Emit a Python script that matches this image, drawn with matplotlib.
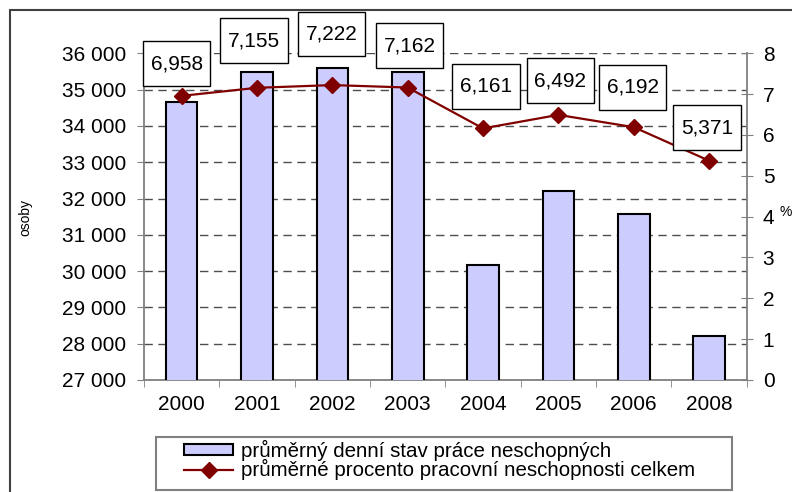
import numpy as np
import matplotlib.pyplot as plt
from matplotlib.path import Path
from matplotlib.patches import Rectangle
from matplotlib.ticker import FuncFormatter, MultipleLocator

plt.rcParams['font.family'] = ['Liberation Sans', 'DejaVu Sans']

# data
years = ['2000', '2001', '2002', '2003', '2004', '2005', '2006', '2008']
persons = [34660, 35490, 35600, 35480, 30160, 32200, 31560, 28200]
percent = [6.958, 7.155, 7.222, 7.162, 6.161, 6.492, 6.192, 5.371]
percent_labels = ['6,958', '7,155', '7,222', '7,162', '6,161', '6,492', '6,192', '5,371']

bar_name = 'průměrný denní stav práce neschopných'
line_name = 'průměrné procento pracovní neschopnosti celkem'

# label placement (pixel offsets from the point), set by hand like in Excel
label_dx = [-5, -3, -1, 2, 3, 2, -1, -2]
label_dy = [32, 47, 51, 42, 42, 34, 40, 33]

bar_color = '#CCCCFF'
line_color = '#800000'
axis_grey = '#808080'


def excel_box(x0, y0, width, height, mutation_size):
    # more vertical padding than horizontal, like the Excel label boxes
    px = 0.36 * mutation_size
    py = 0.62 * mutation_size
    x0, y0 = x0 - px, y0 - py
    x1, y1 = x0 + width + 2 * px, y0 + height + 2 * py
    return Path([(x0, y0), (x1, y0), (x1, y1), (x0, y1), (x0, y0)], closed=True)


fig = plt.figure(figsize=(7.92, 4.92), dpi=100)
ax = fig.add_axes([144 / 792, 1 - 380 / 492, (746.7 - 144) / 792, (380 - 53.3) / 492])
ax2 = ax.twinx()

x = np.arange(len(years))
ax.bar(x, persons, width=0.42, color=bar_color, edgecolor='black', linewidth=1.5,
       zorder=3, label=bar_name)
ax.set_ylim(27000, 36000)
ax.set_xlim(-0.5, len(years) - 0.5)
ax.yaxis.set_major_locator(MultipleLocator(1000))
ax.yaxis.set_major_formatter(FuncFormatter(lambda v, p: f'{int(v):,}'.replace(',', ' ')))
ax.grid(axis='y', color='#4d4d4d', linestyle=(0, (6, 4)), linewidth=1.0, zorder=0)
ax.set_axisbelow(True)

ax.set_xticks(x)
ax.set_xticklabels(years)
ax.set_xticks(np.arange(-0.5, len(years)), minor=True)
ax.tick_params(axis='x', which='major', length=0, pad=11, labelsize=15)
ax.tick_params(axis='x', which='minor', length=5, color=axis_grey, direction='out')
ax.tick_params(axis='y', length=5, color=axis_grey, direction='out', pad=8, labelsize=15)

for s in ['top', 'right']:
    ax.spines[s].set_visible(False)
for s in ['left', 'bottom']:
    ax.spines[s].set_color(axis_grey)
    ax.spines[s].set_linewidth(1.3)

ax2.plot(x, percent, color=line_color, linewidth=1.6, marker='D', markersize=8,
         markerfacecolor=line_color, markeredgecolor=line_color, zorder=4, label=line_name)
ax2.set_ylim(0, 8)
ax2.yaxis.set_major_locator(MultipleLocator(1))
ax2.tick_params(axis='y', length=9, color=axis_grey, direction='inout', pad=7, labelsize=15)
for s in ['top', 'left', 'bottom']:
    ax2.spines[s].set_visible(False)
ax2.spines['right'].set_color(axis_grey)
ax2.spines['right'].set_linewidth(1.3)

for xi, yi, txt, dx, dy in zip(x, percent, percent_labels, label_dx, label_dy):
    ax2.annotate(txt, (xi, yi), xytext=(dx, dy), textcoords='offset pixels',
                 ha='center', va='center', fontsize=15, zorder=6,
                 bbox=dict(boxstyle=excel_box, facecolor='white', edgecolor='black',
                           linewidth=1.0))

fig.text(25 / 792, 1 - 217 / 492, 'osoby', rotation=90, ha='center', va='center', fontsize=10)
fig.text(779 / 792, 1 - 212 / 492, '%', ha='left', va='center', fontsize=10)

# legend entries without frame, the frame is drawn separately (Excel pads it wide)
h1, l1 = ax.get_legend_handles_labels()
h2, l2 = ax2.get_legend_handles_labels()
leg = fig.legend(h1 + h2, l1 + l2, loc='upper left',
                 bbox_to_anchor=(184 / 792, 1 - 440 / 492),
                 fontsize=14.8, frameon=False, borderpad=0, labelspacing=-0.1,
                 handlelength=2.4, handleheight=0.45, handletextpad=0.35,
                 borderaxespad=0)
fig.patches.append(Rectangle((155.5 / 792, 1 - 490 / 492), (732 - 155.5) / 792, (490 - 436.5) / 492,
                             transform=fig.transFigure, fill=False,
                             edgecolor=axis_grey, linewidth=1.5))

# outer chart border (right and bottom edges fall outside the picture)
fig.patches.append(Rectangle((10 / 792, -0.2), 1.2, 1.2 - 10 / 492, transform=fig.transFigure,
                             fill=False, edgecolor='#404040', linewidth=1.5))

fig.savefig('out.png', dpi=100)
